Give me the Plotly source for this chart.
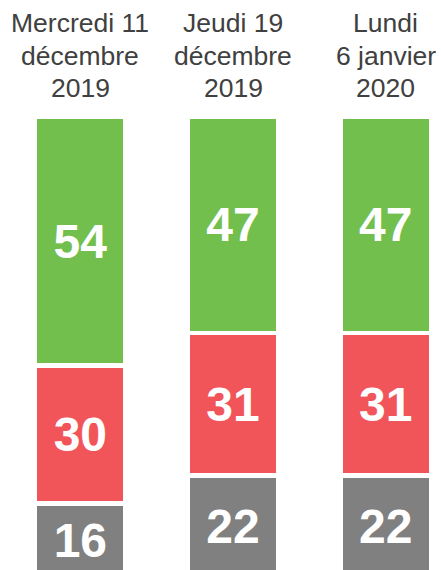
import plotly.graph_objects as go

categories = ["Mercredi 11<br>décembre<br>2019", "Jeudi 19<br>décembre<br>2019", "Lundi<br>6 janvier<br>2020"]
grey_vals = [16, 22, 22]
red_vals = [30, 31, 31]
green_vals = [54, 47, 47]

x_idx = list(range(len(categories)))
FONT = "Liberation Sans, Arial, sans-serif"

fig = go.Figure()
for vals, color in [(grey_vals, "#808080"), (red_vals, "#F1555A"), (green_vals, "#72BF4E")]:
    fig.add_trace(go.Bar(
        x=x_idx, y=vals, width=0.593,
        marker=dict(color=color, line=dict(color="white", width=4.5)),
        text=[str(v) for v in vals], textposition="inside", insidetextanchor="middle",
        constraintext="none",
        textfont=dict(color="white", size=48, family=FONT, weight="bold"),
        hoverinfo="skip",
    ))

LINE_STEP = 32.5
for i, c in enumerate(categories):
    for k, line in enumerate(c.split("<br>")):
        fig.add_annotation(x=i, y=1, xref="x", yref="paper", yanchor="top",
                           yshift=-6 - k * LINE_STEP,
                           text=line, showarrow=False,
                           font=dict(size=26.5, color="#404040", family=FONT))

fig.update_layout(
    barmode="stack", width=441, height=570,
    margin=dict(l=0, r=0, t=0, b=0),
    paper_bgcolor="white", plot_bgcolor="white",
    showlegend=False,
    xaxis=dict(range=[-0.526, 2.362], visible=False, fixedrange=True),
    yaxis=dict(range=[1.5, 125.4], visible=False, fixedrange=True),
)
fig.write_html("out.html", config={"displayModeBar": False},
               post_script="document.body.style.margin='0';document.body.style.overflow='hidden';")
